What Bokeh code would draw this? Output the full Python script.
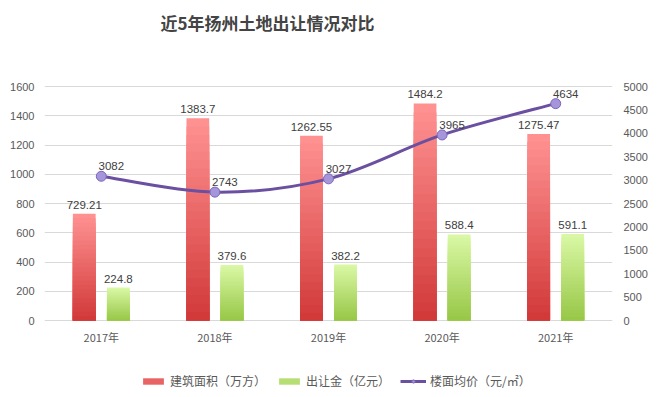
from bokeh.plotting import figure
from bokeh.models import (Range1d, LinearAxis, FixedTicker, Legend, LegendItem, Label)
from bokeh.core.properties import value
from bokeh.embed import file_html
from bokeh.resources import INLINE

years = ["2017年", "2018年", "2019年", "2020年", "2021年"]
area = [729.21, 1383.7, 1262.55, 1484.2, 1275.47]      # 建筑面积（万方）
money = [224.8, 379.6, 382.2, 588.4, 591.1]            # 出让金（亿元）
price = [3082, 2743, 3027, 3965, 4634]                 # 楼面均价（元/㎡）
left_ticks = [0, 200, 400, 600, 800, 1000, 1200, 1400, 1600]
right_ticks = [0, 500, 1000, 1500, 2000, 2500, 3000, 3500, 4000, 4500, 5000]

title_text = "近5年扬州土地出让情况对比"
legend_labels = ["建筑面积（万方）", "出让金（亿元）", "楼面均价（元/㎡）"]

CJK = "Noto Sans CJK SC"
NUM = "Liberation Sans"

idx = list(range(len(years)))

# layout (pixels)
W, H = 664, 397
LEFT, RIGHT = 44, 52
PLOT_TOP, PLOT_BOTTOM = 86, 320          # pixel rows of the axis max and of zero
span_px = PLOT_BOTTOM - PLOT_TOP
L_MAX, R_MAX = left_ticks[-1], right_ticks[-1]
l_per_px = L_MAX / span_px
r_per_px = R_MAX / span_px

y_rng = Range1d(-(H - PLOT_BOTTOM) * l_per_px, L_MAX + PLOT_TOP * l_per_px)
r_rng = Range1d(-(H - PLOT_BOTTOM) * r_per_px, R_MAX + PLOT_TOP * r_per_px)

p = figure(width=W, height=H, output_backend="svg", toolbar_location=None,
           x_range=Range1d(-0.5, len(years) - 0.5), y_range=y_rng,
           min_border_left=LEFT, min_border_right=RIGHT,
           min_border_top=0, min_border_bottom=0)
p.extra_y_ranges = {"price": r_rng}

p.background_fill_color = "white"
p.border_fill_color = "white"
p.outline_line_color = None
p.xaxis.visible = False
p.xgrid.grid_line_color = None
p.ygrid.grid_line_color = "#d9d9d9"
p.ygrid.ticker = FixedTicker(ticks=left_ticks)

p.yaxis.ticker = FixedTicker(ticks=left_ticks)
p.yaxis.major_label_text_font = NUM
p.yaxis.major_label_text_font_size = "11px"
p.yaxis.major_label_text_color = "#595959"
p.yaxis.axis_line_color = None
p.yaxis.major_tick_line_color = None
p.yaxis.minor_tick_line_color = None
p.yaxis.major_label_standoff = 4

ra = LinearAxis(y_range_name="price", ticker=FixedTicker(ticks=right_ticks))
ra.major_label_text_font = NUM
ra.major_label_text_font_size = "11px"
ra.major_label_text_color = "#595959"
ra.axis_line_color = None
ra.major_tick_line_color = None
ra.minor_tick_line_color = None
ra.major_label_standoff = 5
p.add_layout(ra, "right")

# category labels under the zero line
p.text(x=idx, y=[0] * len(idx), text=years, text_align="center", text_baseline="top",
       y_offset=8, text_font=value(CJK), text_font_size="11px", text_color="#595959")

# title
cat_px = (W - LEFT - RIGHT) / len(years)
title = Label(x=-0.5 + (160 - LEFT) / cat_px, y=L_MAX + (PLOT_TOP - 22) * l_per_px,
              text=title_text, text_font=CJK, text_font_size="17px",
              text_font_style="bold", text_color="#444444",
              text_align="left", text_baseline="middle")
p.add_layout(title)

# gradient bars (layered)
def lerp(c1, c2, t):
    a = [int(c1[i:i + 2], 16) for i in (1, 3, 5)]
    b = [int(c2[i:i + 2], 16) for i in (1, 3, 5)]
    return "#%02x%02x%02x" % tuple(int(round(a[k] + (b[k] - a[k]) * t)) for k in range(3))

N = 24
bar_w = 0.2
red_x = [i - 0.15 for i in idx]
green_x = [i + 0.15 for i in idx]
red_leg = None
green_leg = None
for k in range(N):
    frac = 1 - k / N
    t = k / (N - 1)
    r = p.vbar(x=red_x, top=[v * frac for v in area], width=bar_w,
               fill_color=lerp("#ff9191", "#d23a3a", t), line_color=None)
    g = p.vbar(x=green_x, top=[v * frac for v in money], width=bar_w,
               fill_color=lerp("#d9f7a4", "#98c848", t), line_color=None)
    if k == N // 2:
        red_leg, green_leg = r, g

# smoothed line through price points (Catmull-Rom as Bezier)
n = len(price)
xs = [float(i) for i in idx]
x0, y0, x1, y1, cx0, cy0, cx1, cy1 = [], [], [], [], [], [], [], []
for i in range(n - 1):
    pa = (xs[max(i - 1, 0)], price[max(i - 1, 0)])
    pb = (xs[i], price[i])
    pc = (xs[i + 1], price[i + 1])
    pd = (xs[min(i + 2, n - 1)], price[min(i + 2, n - 1)])
    x0.append(pb[0]); y0.append(pb[1]); x1.append(pc[0]); y1.append(pc[1])
    cx0.append(pb[0] + (pc[0] - pa[0]) / 6); cy0.append(pb[1] + (pc[1] - pa[1]) / 6)
    cx1.append(pc[0] - (pd[0] - pb[0]) / 6); cy1.append(pc[1] - (pd[1] - pb[1]) / 6)
p.bezier(x0=x0, y0=y0, x1=x1, y1=y1, cx0=cx0, cy0=cy0, cx1=cx1, cy1=cy1,
         line_color="#6b4fa0", line_width=3, y_range_name="price")
line_leg = p.line(x=xs, y=price, line_color="#6b4fa0", line_width=3,
                  y_range_name="price", visible=False)
mk = p.scatter(x=xs, y=price, size=10, fill_color="#a596dc", line_color="#7b65b8",
               line_width=1, y_range_name="price")

# data labels
lab_font = value(NUM)
p.text(x=red_x, y=area, text=[f"{v:g}" for v in area], text_align="center",
       text_baseline="bottom", y_offset=-5, text_font=lab_font,
       text_font_size="11.5px", text_color="#404040")
p.text(x=green_x, y=money, text=[f"{v:g}" for v in money], text_align="center",
       text_baseline="bottom", y_offset=-5, text_font=lab_font,
       text_font_size="11.5px", text_color="#404040")
p.text(x=xs, y=price, text=[str(v) for v in price], text_align="center",
       text_baseline="bottom", x_offset=10, y_offset=-6, text_font=lab_font,
       text_font_size="11.5px", text_color="#404040", y_range_name="price")

legend = Legend(items=[
    LegendItem(label=legend_labels[0], renderers=[red_leg]),
    LegendItem(label=legend_labels[1], renderers=[green_leg]),
    LegendItem(label=legend_labels[2], renderers=[line_leg, mk]),
], orientation="horizontal", location=(96, 8))
legend.label_text_font = CJK
legend.label_text_font_size = "12px"
legend.label_text_color = "#595959"
legend.glyph_width = 26
legend.glyph_height = 8
legend.spacing = 10
legend.label_standoff = 4
legend.border_line_color = None
legend.background_fill_alpha = 0
legend.margin = 0
legend.padding = 2
p.add_layout(legend)

open("out.html", "w").write(file_html(p, INLINE))
